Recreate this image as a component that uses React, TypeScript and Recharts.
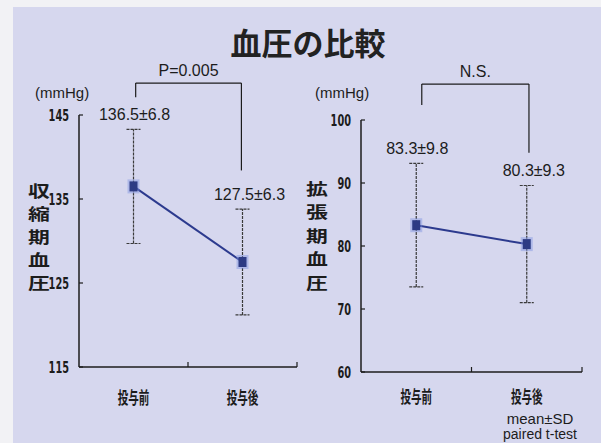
import React from 'react';
import { LineChart, Line, XAxis, YAxis, ErrorBar, ReferenceLine, LabelList } from 'recharts';

// ---- data ----
const categories = ['投与前', '投与後'];
const categoryPositions = [0.5, 1.5];
const systolicMean = [136.5, 127.5];
const systolicSD = [6.8, 6.3];
const diastolicMean = [83.3, 80.3];
const diastolicSD = [9.8, 9.3];
const systolicTicks = [115, 125, 135, 145];
const diastolicTicks = [60, 70, 80, 90, 100];
const xTicks = [0.5, 1, 1.5, 2];
const systolicBracketX = [0.52, 1.49];
const systolicBracketY = [148.8, 147.1, 138.4];
const diastolicBracketX = [0.55, 1.52];
const diastolicBracketY = [105.7, 102.4, 94.8];
const systolicTest = 'P=0.005';
const diastolicTest = 'N.S.';
const title = '血圧の比較';
const systolicAxisTitle = '収縮期血圧';
const diastolicAxisTitle = '拡張期血圧';
const unitLabel = '(mmHg)';
const footnotes = ['mean±SD', 'paired t-test'];

const buildRows = (means: number[], sds: number[]) =>
  categories.map((c, i) => ({
    name: c,
    x: categoryPositions[i],
    mean: means[i],
    sd: sds[i],
    upper: means[i] + sds[i],
    text: `${means[i].toFixed(1)}±${sds[i].toFixed(1)}`,
  }));

const systolicRows = buildRows(systolicMean, systolicSD);
const diastolicRows = buildRows(diastolicMean, diastolicSD);

// ---- styles ----
const SANS = '"Liberation Sans", Arial, "Noto Sans", sans-serif';
const CJK = '"Noto Sans CJK JP", "Noto Sans CJK SC", sans-serif';
const NARROW = '"Liberation Sans Narrow", "DejaVu Sans Condensed", "Liberation Sans", sans-serif';
const INK = '#1c1c1c';
const LINE_COLOR = '#2c3a8e';

const SquareDot = (props: any) => {
  const { cx, cy } = props;
  if (cx == null || cy == null) return null;
  return (
    <g>
      <rect x={cx - 6} y={cy - 7} width={12} height={14} fill="#7f93e0" opacity={0.45} />
      <rect x={cx - 4} y={cy - 5} width={8} height={10} fill="#2d3b84" />
    </g>
  );
};

const makeXTick = (dy: number) => (props: any) => {
  const { x, y, payload } = props;
  const v = payload.value;
  const idx = categoryPositions.indexOf(v);
  if (idx >= 0) {
    return (
      <g transform={`translate(${x},${y + dy}) scale(0.62,1)`}>
        <text textAnchor="middle" dominantBaseline="central" fontSize={17} fontWeight="bold" fontFamily={CJK} fill={INK}>
          {categories[idx]}
        </text>
      </g>
    );
  }
  return <line x1={x} x2={x} y1={y} y2={y - 5} stroke={INK} strokeWidth={1.2} />;
};

const YTick = (props: any) => {
  const { x, y, payload } = props;
  return (
    <g>
      <line x1={x} x2={x + 4} y1={y} y2={y} stroke={INK} strokeWidth={1.2} />
      <g transform={`translate(${x - 10},${y}) scale(0.68,1)`}>
        <text textAnchor="end" dominantBaseline="central" fontSize={16} fontWeight="bold" fontFamily={NARROW} fill={INK}>
          {payload.value}
        </text>
      </g>
    </g>
  );
};

const labelShift = [1, 7];
const ValueLabel = (props: any) => {
  const { x, y, value, index } = props;
  return (
    <text x={x + labelShift[index]} y={y - 15} textAnchor="middle" dominantBaseline="central" fontSize={16} fontFamily={SANS} fill={INK}>
      {value}
    </text>
  );
};

const TestLabel = (text: string) => (props: any) => {
  const { viewBox } = props;
  const cx = viewBox.x + viewBox.width / 2;
  return (
    <text x={cx} y={viewBox.y - 13} textAnchor="middle" dominantBaseline="central" fontSize={16} fontFamily={SANS} fill={INK}>
      {text}
    </text>
  );
};

const Bracket = (bx: number[], by: number[], text: string) => [
  <ReferenceLine
    key="top"
    segment={[{ x: bx[0], y: by[0] }, { x: bx[1], y: by[0] }]}
    ifOverflow="visible"
    stroke={INK}
    strokeWidth={1.2}
    label={{ content: TestLabel(text) } as any}
  />,
  <ReferenceLine key="l" segment={[{ x: bx[0], y: by[0] }, { x: bx[0], y: by[1] }]} ifOverflow="visible" stroke={INK} strokeWidth={1.2} />,
  <ReferenceLine key="r" segment={[{ x: bx[1], y: by[0] }, { x: bx[1], y: by[2] }]} ifOverflow="visible" stroke={INK} strokeWidth={1.2} />,
];

const Panel = (p: {
  rows: any[];
  domain: [number, number];
  ticks: number[];
  margin: any;
  bx: number[];
  by: number[];
  test: string;
  tickDy: number;
}) => (
  <div style={{ position: 'absolute', left: 0, top: 0 }}>
    <LineChart width={601} height={443} data={p.rows} margin={p.margin}>
      <XAxis
        dataKey="x"
        type="number"
        domain={[0, 2]}
        allowDataOverflow
        ticks={xTicks}
        interval={0}
        tickSize={0}
        tickMargin={0}
        tickLine={false}
        height={30}
        axisLine={{ stroke: INK, strokeWidth: 1.5 }}
        tick={makeXTick(p.tickDy)}
      />
      <YAxis
        type="number"
        domain={p.domain}
        allowDataOverflow
        ticks={p.ticks}
        interval={0}
        tickSize={0}
        tickMargin={0}
        tickLine={false}
        width={60}
        axisLine={{ stroke: INK, strokeWidth: 1.5 }}
        tick={YTick}
      />
      {Bracket(p.bx, p.by, p.test)}
      <Line
        dataKey="mean"
        stroke={LINE_COLOR}
        strokeWidth={2}
        isAnimationActive={false}
        dot={SquareDot}
        activeDot={false}
      >
        <ErrorBar dataKey="sd" direction="y" width={7} stroke="#3a3a3a" strokeWidth={1.2} strokeDasharray="3 1" />
      </Line>
      <Line dataKey="upper" stroke="none" dot={false} activeDot={false} isAnimationActive={false}>
        <LabelList dataKey="text" content={ValueLabel} />
      </Line>
    </LineChart>
  </div>
);

const VerticalTitle = ({ text, x, y0, step }: { text: string; x: number; y0: number; step: number }) => (
  <g>
    {text.split('').map((ch, i) => (
      <g key={i} transform={`translate(${x},${y0 + i * step}) scale(1.15,0.85)`}>
        <text textAnchor="middle" dominantBaseline="central" fontSize={19} fontWeight="bold" fontFamily={CJK} fill={INK}>
          {ch}
        </text>
      </g>
    ))}
  </g>
);

export default function App() {
  return (
    <div style={{ position: 'absolute', left: 0, top: 0, width: 601, height: 443, background: '#f2f2f5', overflow: 'hidden' }}>
      <div style={{ position: 'absolute', left: 13, top: 7, right: 0, bottom: 0, background: '#d6d7ee' }} />
      <svg width={601} height={443} style={{ position: 'absolute', left: 0, top: 0 }}>
        <text x={308} y={41} textAnchor="middle" dominantBaseline="central" fontSize={31} fontWeight="bold" fontFamily={CJK} fill="#222">
          {title}
        </text>
        <text x={35} y={92} dominantBaseline="central" fontSize={15} fontFamily={SANS} fill={INK}>{unitLabel}</text>
        <text x={315} y={92} dominantBaseline="central" fontSize={15} fontFamily={SANS} fill={INK}>{unitLabel}</text>
        <VerticalTitle text={systolicAxisTitle} x={39} y0={190} step={23} />
        <VerticalTitle text={diastolicAxisTitle} x={317} y0={188} step={23.5} />
        <text x={540} y={418} textAnchor="middle" dominantBaseline="central" fontSize={15} fontFamily={SANS} fill={INK}>{footnotes[0]}</text>
        <text x={540} y={434} textAnchor="middle" dominantBaseline="central" fontSize={14} fontFamily={SANS} fill={INK}>{footnotes[1]}</text>
      </svg>
      <Panel
        rows={systolicRows}
        domain={[115, 145]}
        ticks={systolicTicks}
        margin={{ top: 115, right: 304, bottom: 46, left: 19 }}
        bx={systolicBracketX}
        by={systolicBracketY}
        test={systolicTest}
        tickDy={30}
      />
      <Panel
        rows={diastolicRows}
        domain={[60, 100]}
        ticks={diastolicTicks}
        margin={{ top: 120, right: 19, bottom: 41, left: 301 }}
        bx={diastolicBracketX}
        by={diastolicBracketY}
        test={diastolicTest}
        tickDy={24}
      />
    </div>
  );
}
